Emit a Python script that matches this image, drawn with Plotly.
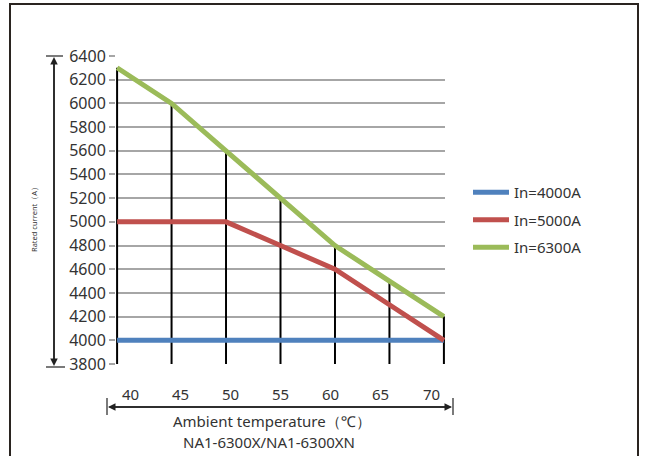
import plotly.graph_objects as go

# data
temps = [40, 45, 50, 55, 60, 65, 70]
in_4000 = [4000, 4000, 4000, 4000, 4000, 4000, 4000]
in_5000 = [5000, 5000, 5000, 4800, 4600, 4300, 4000]
in_6300 = [6300, 6000, 5600, 5200, 4800, 4500, 4200]
series_names = ["In=4000A", "In=5000A", "In=6300A"]
series_colors = ["#4f81bd", "#c0504d", "#9bbb59"]
y_ticks = list(range(3800, 6401, 200))

W, H = 646, 456
L, R, T, B = 116, 445, 56, 364   # plot area in pixels


def px(x):
    return (x - L) / (R - L)


def py(y):
    return (B - y) / (B - T)


fig = go.Figure()

# black drop lines from the bottom up to the highest curve
for t, v in zip(temps, in_6300):
    fig.add_trace(go.Scatter(x=[t, t], y=[y_ticks[0], v], mode="lines",
                             line=dict(color="black", width=2),
                             showlegend=False, hoverinfo="skip", cliponaxis=False))

for name, vals, col in zip(series_names, [in_4000, in_5000, in_6300], series_colors):
    fig.add_trace(go.Scatter(x=temps, y=vals, mode="lines", name=name,
                             legendgroup=name,
                             line=dict(color=col, width=5),
                             cliponaxis=False))

font = "Noto Sans"
txt = "#333333"

# the temperature labels sit on their own, slightly narrower scale (hidden xaxis2)
annotations = []
for t in temps:
    annotations.append(dict(x=t, y=py(394), xref="x2", yref="paper", text=str(t),
                            showarrow=False, xanchor="center", yanchor="middle",
                            font=dict(family=font, size=15, color=txt)))

# dimension arrows
annotations += [
    dict(x=px(54), y=py(57), xref="paper", yref="paper", ax=0, ay=308,
         showarrow=True, arrowhead=2, arrowsize=1, arrowwidth=1.5, arrowcolor="#222", text=""),
    dict(x=px(54), y=py(366), xref="paper", yref="paper", ax=0, ay=-308,
         showarrow=True, arrowhead=2, arrowsize=1, arrowwidth=1.5, arrowcolor="#222", text=""),
    dict(x=px(108), y=py(407), xref="paper", yref="paper", ax=344, ay=0,
         showarrow=True, arrowhead=2, arrowsize=1, arrowwidth=1.5, arrowcolor="#222", text=""),
    dict(x=px(452), y=py(407), xref="paper", yref="paper", ax=-344, ay=0,
         showarrow=True, arrowhead=2, arrowsize=1, arrowwidth=1.5, arrowcolor="#222", text=""),
    dict(x=px(34), y=py(218), xref="paper", yref="paper", text="Rated current（A）",
         textangle=-90, showarrow=False, xanchor="center", yanchor="middle",
         font=dict(family=font, size=7.5, color=txt)),
    dict(x=px(272), y=py(421), xref="paper", yref="paper", text="Ambient temperature（℃）",
         showarrow=False, xanchor="center", yanchor="middle",
         font=dict(family=font, size=15, color=txt)),
    dict(x=px(269), y=py(442), xref="paper", yref="paper", text="NA1-6300X/NA1-6300XN",
         showarrow=False, xanchor="center", yanchor="middle",
         font=dict(family=font, size=15, color=txt)),
]

shapes = [
    # outer frame
    dict(type="rect", xref="paper", yref="paper", x0=px(10), x1=px(638), y0=py(470), y1=py(4),
         line=dict(color="#2a2420", width=2), layer="above"),
    # end bars of the dimension arrows
    dict(type="line", xref="paper", yref="paper", x0=px(46), x1=px(63), y0=py(56), y1=py(56),
         line=dict(color="#222", width=1.2)),
    dict(type="line", xref="paper", yref="paper", x0=px(46), x1=px(65), y0=py(367), y1=py(367),
         line=dict(color="#222", width=1.2)),
    dict(type="line", xref="paper", yref="paper", x0=px(107), x1=px(107), y0=py(398), y1=py(415),
         line=dict(color="#222", width=1.2)),
    dict(type="line", xref="paper", yref="paper", x0=px(453), x1=px(453), y0=py(398), y1=py(415),
         line=dict(color="#222", width=1.2)),
]

fig.update_layout(
    width=W, height=H,
    margin=dict(l=L, r=W - R, t=T, b=H - B, autoexpand=False),
    paper_bgcolor="white", plot_bgcolor="rgba(0,0,0,0)",
    font=dict(family=font, size=16, color=txt),
    xaxis=dict(range=[39.9, 70.1], showgrid=False, zeroline=False, showticklabels=False,
               showline=False, ticks=""),
    xaxis2=dict(range=[40, 70], domain=[px(130), px(431)], anchor="y2", visible=False,
                showgrid=False, zeroline=False),
    yaxis2=dict(range=[0, 1], anchor="x2", visible=False, showgrid=False, zeroline=False),
    yaxis=dict(range=[3800, 6400], tickvals=y_ticks, showgrid=True, gridcolor="#a6a6a6",
               gridwidth=1.5, zeroline=False, showline=False, ticks="outside", ticklen=6,
               tickcolor="#a6a6a6", tickwidth=1.5, tickfont=dict(size=16, color=txt)),
    legend=dict(x=px(468), y=py(220), xanchor="left", yanchor="middle",
                tracegroupgap=5, itemwidth=36, font=dict(size=15, color=txt),
                bgcolor="rgba(0,0,0,0)"),
    annotations=annotations,
    shapes=shapes,
)

# drop the default 8px page margin so the figure sits at the window origin
fig.write_html("out.html", config={"displayModeBar": False},
               post_script="document.body.style.margin='0';")
